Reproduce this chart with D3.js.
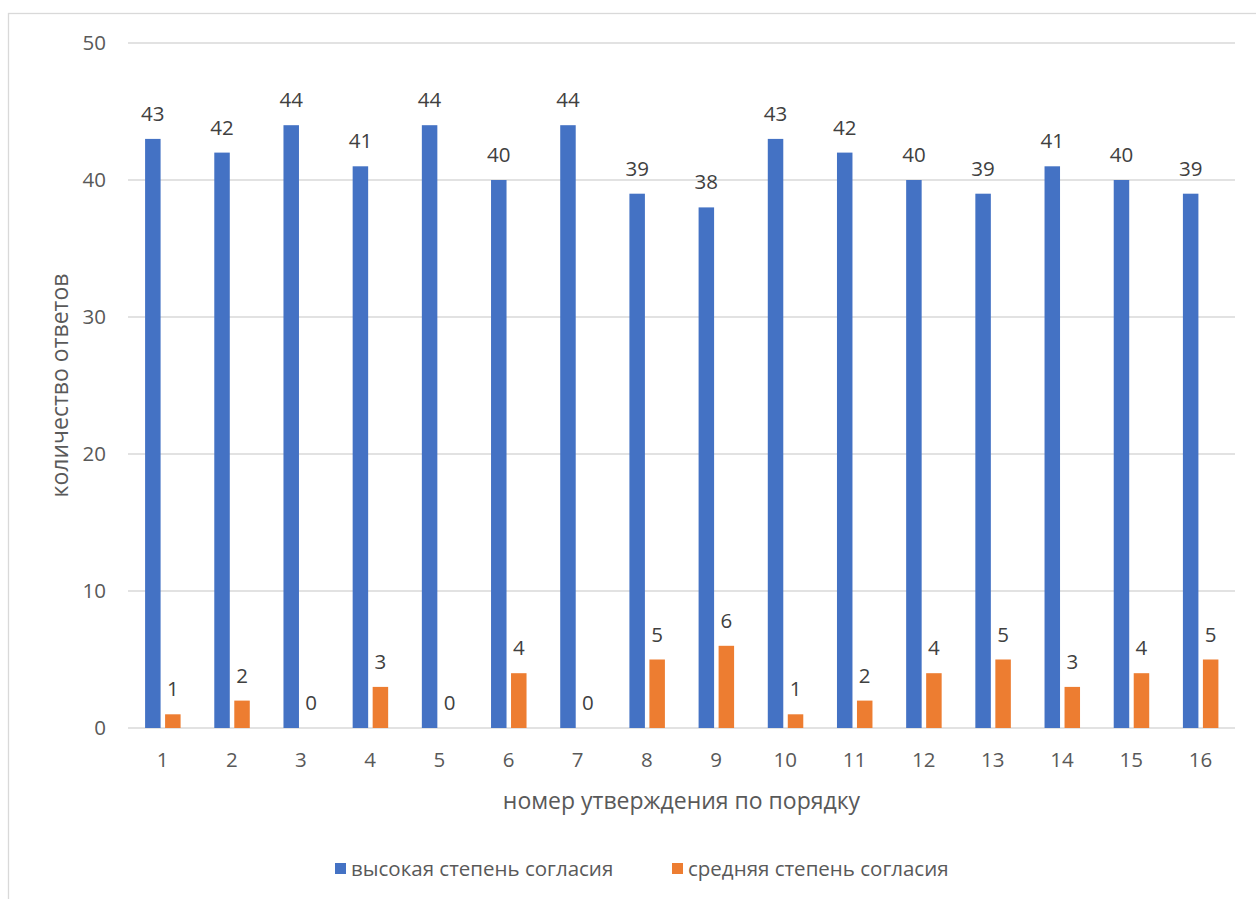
<!DOCTYPE html>
<html>
<head>
<meta charset="utf-8">
<style>
  body { margin: 0; background: #fff; }
  svg text { font-family: "Open Sans", "Noto Sans", sans-serif; }
  .grid line { stroke: #d9d9d9; stroke-width: 1.3; }
  .tick-label { fill: #595959; font-size: 20.5px; }
  .val { fill: #404040; font-size: 20.5px; }
</style>
</head>
<body>
<script src="https://d3js.org/d3.v7.min.js"></script>
<div id="chart"></div>
<script>
var categories = ["1","2","3","4","5","6","7","8","9","10","11","12","13","14","15","16"];
var highValues = [43, 42, 44, 41, 44, 40, 44, 39, 38, 43, 42, 40, 39, 41, 40, 39];
var midValues  = [1, 2, 0, 3, 0, 4, 0, 5, 6, 1, 2, 4, 5, 3, 4, 5];
var yTicks = [0, 10, 20, 30, 40, 50];
var seriesNames = ["высокая степень согласия", "средняя степень согласия"];
var colors = ["#4472C4", "#ED7D31"];

var width = 1256, height = 899;
var plot = {left: 128, right: 1235, top: 43, bottom: 728};

var svg = d3.select("#chart").append("svg")
    .attr("width", width)
    .attr("height", height);

// chart frame
svg.append("rect")
    .attr("x", 8.5).attr("y", 13.5)
    .attr("width", 1260).attr("height", 900)
    .attr("fill", "none")
    .attr("stroke", "#d9d9d9")
    .attr("stroke-width", 1.3);

var x = d3.scaleBand()
    .domain(categories)
    .range([plot.left, plot.right]);

var y = d3.scaleLinear()
    .domain([0, 50])
    .range([plot.bottom, plot.top]);

// gridlines
svg.append("g").attr("class", "grid")
    .selectAll("line")
    .data(yTicks)
    .enter().append("line")
    .attr("x1", plot.left).attr("x2", plot.right)
    .attr("y1", function(d) { return y(d); })
    .attr("y2", function(d) { return y(d); });

// y tick labels
svg.selectAll(".ytick")
    .data(yTicks)
    .enter().append("text")
    .attr("class", "tick-label")
    .attr("x", 106)
    .attr("y", function(d) { return y(d); })
    .attr("dy", "0.35em")
    .attr("text-anchor", "end")
    .text(function(d) { return d; });

// x tick labels
svg.selectAll(".xtick")
    .data(categories)
    .enter().append("text")
    .attr("class", "tick-label")
    .attr("x", function(d) { return x(d) + x.bandwidth() / 2; })
    .attr("y", 760)
    .attr("dy", "0.35em")
    .attr("text-anchor", "middle")
    .text(function(d) { return d; });

var barW = 15.5;
var series = [highValues, midValues];
var offsets = [-17.5, 2.5];

series.forEach(function(vals, s) {
    var data = categories.map(function(c, i) { return {cat: c, v: vals[i]}; });
    svg.append("g").selectAll("rect")
        .data(data)
        .enter().append("rect")
        .attr("x", function(d) { return x(d.cat) + x.bandwidth() / 2 + offsets[s]; })
        .attr("y", function(d) { return y(d.v); })
        .attr("width", barW)
        .attr("height", function(d) { return y(0) - y(d.v); })
        .attr("fill", colors[s]);

    svg.append("g").selectAll("text")
        .data(data)
        .enter().append("text")
        .attr("class", "val")
        .attr("x", function(d) { return x(d.cat) + x.bandwidth() / 2 + offsets[s] + barW / 2; })
        .attr("y", function(d) { return y(d.v) - 18; })
        .attr("text-anchor", "middle")
        .text(function(d) { return d.v; });
});

// axis titles
svg.append("text")
    .attr("x", (plot.left + plot.right) / 2)
    .attr("y", 801)
    .attr("dy", "0.35em")
    .attr("text-anchor", "middle")
    .attr("fill", "#595959")
    .style("font-size", "23px")
    .text("номер утверждения по порядку");

svg.append("text")
    .attr("transform", "translate(60," + (plot.top + plot.bottom) / 2 + ") rotate(-90)")
    .attr("dy", "0.35em")
    .attr("text-anchor", "middle")
    .attr("fill", "#595959")
    .style("font-size", "23px")
    .text("количество ответов");

// legend
var legendX = [335, 672];
seriesNames.forEach(function(name, i) {
    svg.append("rect")
        .attr("x", legendX[i]).attr("y", 863)
        .attr("width", 11).attr("height", 11)
        .attr("fill", colors[i]);
    svg.append("text")
        .attr("x", legendX[i] + 16)
        .attr("y", 869)
        .attr("dy", "0.35em")
        .attr("fill", "#595959")
        .style("font-size", "20.5px")
        .text(name);
});
</script>
</body>
</html>
